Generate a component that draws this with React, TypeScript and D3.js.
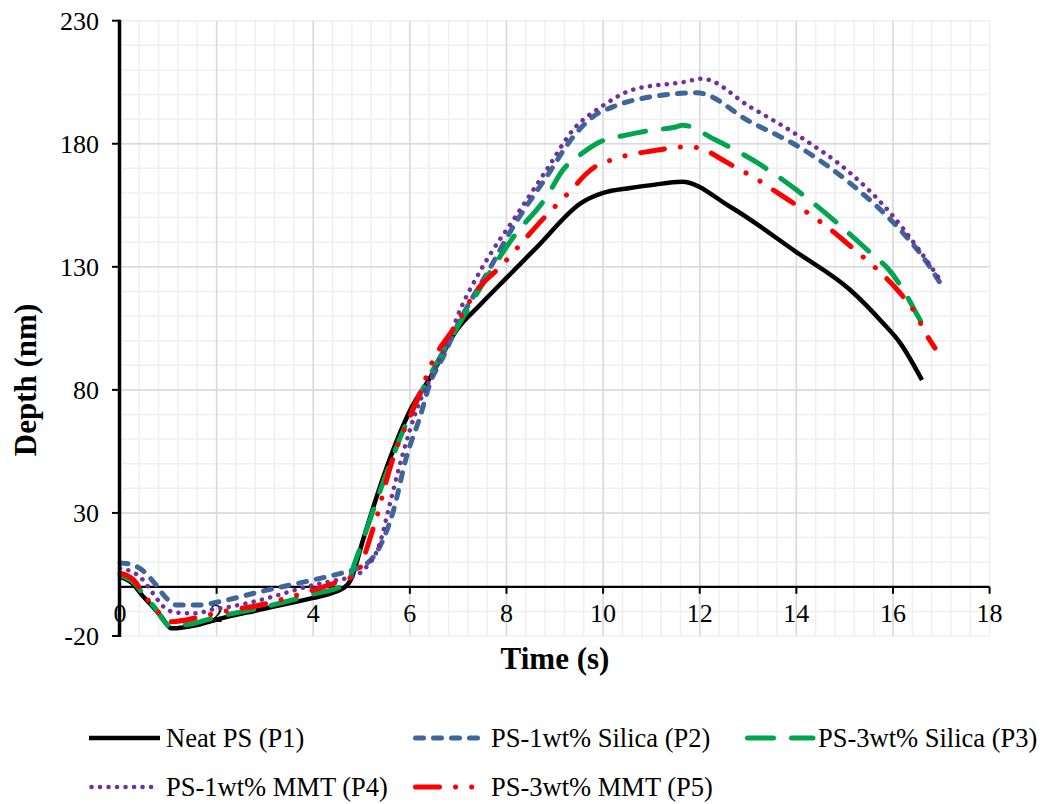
import React from "react";
import * as d3 from "d3";

// ---- Data ----
const p1Time = [0, 0.25, 0.48, 0.65, 0.85, 1.07, 1.59, 2.0, 2.9, 4.0, 4.35, 4.7, 4.78, 5.03, 5.45, 6.04, 6.42, 6.97, 7.45, 8.0, 8.63, 9.55, 10.0, 10.56, 11.0, 11.63, 12.63, 14.0, 15.11, 15.8, 16.15, 16.6];
const p1Depth = [4, 1.5, -4, -7.5, -12, -16.9, -15.5, -13.3, -9.3, -4.5, -2.8, 0.7, 3, 19, 44.6, 73, 85, 104.4, 114.5, 125.5, 138, 156, 160, 162, 163.2, 164.6, 154.4, 136, 120.7, 107, 99, 84];

const p2Time = [0, 0.2, 0.41, 0.72, 0.93, 1.17, 1.66, 2.07, 2.9, 4.0, 4.6, 4.85, 5.24, 5.66, 5.93, 6.21, 6.42, 6.69, 6.97, 7.66, 8.14, 8.83, 9.38, 9.79, 10.2, 10.97, 11.94, 13.04, 14.08, 15.11, 16.15, 16.62, 17.04];
const p2Depth = [9.7, 9.2, 7.5, 1.4, -4, -7.4, -7.4, -6, -2, 2.8, 5.6, 7, 12, 31, 52.8, 69, 82.8, 93.4, 105.6, 129.5, 146.3, 166.6, 182.8, 191, 195, 199, 200.7, 189, 178.4, 164, 145, 134, 121.5];

const p3Time = [0, 0.3, 0.5, 0.7, 1.05, 1.6, 2.0, 2.9, 4.0, 4.6, 4.75, 4.83, 5.03, 5.24, 5.59, 5.93, 6.42, 6.97, 7.56, 8.14, 8.83, 9.17, 9.58, 9.9, 10.52, 11.0, 11.45, 11.65, 12.32, 13.19, 14.0, 14.84, 15.63, 15.88, 16.31, 16.5, 16.66];
const p3Depth = [4.5, 1.5, -3.5, -8, -16, -14.5, -12.3, -8.6, -3, 0.5, 3, 8, 19, 31, 50, 66.6, 86, 105, 124.7, 142, 158.5, 169.4, 176.3, 180.4, 183.7, 185.5, 186.6, 187.5, 181.6, 172.3, 161.3, 147.9, 134, 129.6, 117.4, 110.5, 105];

const p4Time = [0, 0.2, 0.41, 0.68, 0.9, 1.17, 1.59, 1.86, 2.28, 2.9, 4.0, 4.5, 4.8, 5.04, 5.38, 5.59, 5.86, 6.14, 6.48, 6.77, 7.04, 7.39, 7.66, 8.14, 8.83, 9.38, 10.0, 10.62, 11.65, 12.05, 13.04, 14.08, 15.11, 15.94, 16.5, 17.0];
const p4Depth = [7.5, 6.5, 4.1, -2.6, -8.1, -10.5, -10.8, -9.4, -8.1, -5.4, 0.7, 2.8, 4, 6.8, 17.8, 34, 54.4, 71.9, 86.9, 99, 112.5, 126, 135, 149, 169.4, 185.7, 195.5, 202, 205, 206.4, 195, 182.8, 168.2, 152, 138, 124];

const p5Time = [0, 0.28, 0.48, 0.66, 0.86, 1.07, 1.66, 2.14, 2.9, 4.0, 4.63, 4.9, 5.03, 5.21, 5.34, 5.48, 5.66, 6.0, 6.21, 6.48, 6.93, 7.39, 7.87, 8.83, 9.1, 9.38, 9.63, 9.9, 10.2, 10.54, 10.89, 11.18, 11.76, 12.09, 12.4, 12.69, 13.2, 13.54, 13.85, 14.14, 14.66, 14.94, 15.23, 15.5, 15.98, 16.23, 16.47, 16.66, 16.87];
const p5Depth = [5.5, 2.8, -2.6, -7.4, -11.5, -14.2, -12.2, -10.1, -7.4, -1.3, 2.8, 4.8, 11, 21.9, 30, 40.6, 52.8, 69, 78.8, 92, 105.6, 120.6, 130, 151, 156.4, 162, 167.4, 171.5, 173.5, 175.5, 176.7, 177.6, 178.8, 177.6, 174.3, 171, 165.4, 161, 157, 153.2, 145.9, 141.4, 136.5, 132, 123, 117.4, 110.9, 103.6, 97];

const seriesNames = ["Neat PS (P1)", "PS-1wt% Silica (P2)", "PS-3wt% Silica (P3)", "PS-1wt% MMT (P4)", "PS-3wt% MMT (P5)"];
const xTicks = [0, 2, 4, 6, 8, 10, 12, 14, 16, 18];
const yTicks = [-20, 30, 80, 130, 180, 230];
const xTitle = "Time (s)";
const yTitle = "Depth (nm)";

// ---- Styles ----
const styles = [
  { color: "#000000", width: 4.5, dash: "" },
  { color: "#3E6699", width: 5, dash: "8,10" },
  { color: "#00A550", width: 5, dash: "26,18" },
  { color: "#7030A0", width: 4.5, dash: "0.1,8.4" },
  { color: "#FF0000", width: 5, dash: "24,16,0.1,16,0.1,16" },
];

const FONT = "'Liberation Serif', 'Times New Roman', serif";

export default function App() {
  const W = 1048;
  const H = 804;
  const x = d3.scaleLinear().domain([0, 18]).range([120, 989.6]);
  const y = d3.scaleLinear().domain([-20, 230]).range([636, 20.7]);

  const series = [
    [p1Time, p1Depth],
    [p2Time, p2Depth],
    [p3Time, p3Depth],
    [p4Time, p4Depth],
    [p5Time, p5Depth],
  ];

  const line = d3
    .line<[number, number]>()
    .x((d) => x(d[0]))
    .y((d) => y(d[1]))
    .curve(d3.curveMonotoneX);

  const minorX = d3.range(0, 18.0001, 0.4);
  const minorY = d3.range(-20, 230.0001, 10);
  const majorX = xTicks.filter((t) => t > 0 && t < 18);
  const majorY = yTicks.filter((t) => t > -20 && t < 230);

  const legendItems = [
    { lx: 89, ly: 738, len: 71, tx: 166 },
    { lx: 413, ly: 738, len: 74, tx: 491 },
    { lx: 745, ly: 738, len: 68, tx: 818 },
    { lx: 89, ly: 787, len: 66, tx: 166 },
    { lx: 413, ly: 787, len: 70, tx: 491 },
  ];

  return (
    <svg
      width={W}
      height={H}
      style={{ position: "absolute", left: 0, top: 0, background: "#fff" }}
      fontFamily={FONT}
    >
      <rect x={0} y={0} width={W} height={H} fill="#fff" />
      {/* minor grid */}
      <g stroke="#efefef" strokeWidth={1.5}>
        {minorX.map((t, i) => (
          <line key={"mx" + i} x1={x(t)} x2={x(t)} y1={y(230)} y2={y(-20)} />
        ))}
        {minorY.map((t, i) => (
          <line key={"my" + i} x1={x(0)} x2={x(18)} y1={y(t)} y2={y(t)} />
        ))}
      </g>
      {/* major grid */}
      <g stroke="#d9d9d9" strokeWidth={1.5}>
        {majorX.map((t) => (
          <line key={"Mx" + t} x1={x(t)} x2={x(t)} y1={y(230)} y2={y(-20)} />
        ))}
        {majorY.map((t) => (
          <line key={"My" + t} x1={x(0)} x2={x(18)} y1={y(t)} y2={y(t)} />
        ))}
      </g>

      {/* x axis at y = 0 */}
      <line x1={x(0)} x2={x(18)} y1={y(0)} y2={y(0)} stroke="#000" strokeWidth={2.2} />
      {xTicks.map((t) => (
        <g key={"xt" + t}>
          <line x1={x(t)} x2={x(t)} y1={y(0)} y2={y(0) + 7} stroke="#000" strokeWidth={2} />
          <text x={x(t)} y={622} textAnchor="middle" fontSize={26} fill="#000">
            {t}
          </text>
        </g>
      ))}

      {/* series */}
      {series.map(([ts, ds], i) => {
        const pts = ts.map((t, k) => [t, ds[k]] as [number, number]);
        const s = styles[i];
        return (
          <path
            key={"s" + i}
            d={line(pts) || ""}
            fill="none"
            stroke={s.color}
            strokeWidth={s.width}
            strokeDasharray={s.dash || undefined}
            strokeLinecap={s.dash ? "round" : "butt"}
            strokeLinejoin="round"
          />
        );
      })}

      {/* y axis */}
      <line x1={119.5} x2={119.5} y1={y(230) - 1} y2={y(-20) + 1} stroke="#000" strokeWidth={3.5} />
      {yTicks.map((t) => (
        <g key={"yt" + t}>
          <line x1={112} x2={119.5} y1={y(t)} y2={y(t)} stroke="#000" strokeWidth={2} />
          <text x={99} y={y(t)} dy="0.34em" textAnchor="end" fontSize={26} fill="#000">
            {t}
          </text>
        </g>
      ))}

      {/* axis titles */}
      <text x={555} y={669} textAnchor="middle" fontSize={31} fontWeight="bold" fill="#000">
        {xTitle}
      </text>
      <text
        transform={`translate(36,380) rotate(-90)`}
        textAnchor="middle"
        fontSize={31}
        fontWeight="bold"
        fill="#000"
      >
        {yTitle}
      </text>

      {/* legend */}
      {legendItems.map((it, i) => {
        const s = styles[i];
        return (
          <g key={"lg" + i}>
            <line
              x1={it.lx + (s.dash ? 2.5 : 0)}
              x2={it.lx + it.len}
              y1={it.ly}
              y2={it.ly}
              stroke={s.color}
              strokeWidth={s.width}
              strokeDasharray={s.dash || undefined}
              strokeLinecap={s.dash ? "round" : "butt"}
            />
            <text x={it.tx} y={it.ly} dy="0.34em" fontSize={26.5} fill="#000">
              {seriesNames[i]}
            </text>
          </g>
        );
      })}
    </svg>
  );
}
